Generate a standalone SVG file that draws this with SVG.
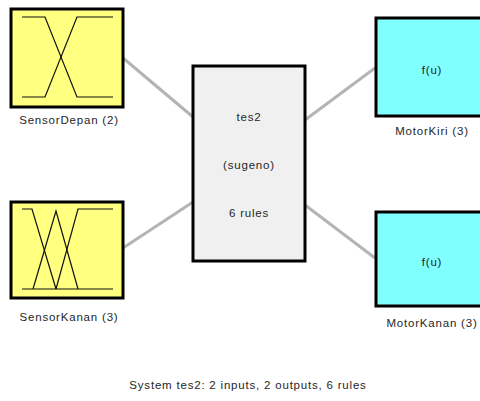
<svg xmlns="http://www.w3.org/2000/svg" width="480" height="401" viewBox="0 0 480 401">
  <style>
    .lbl { font-family: "Liberation Sans", Arial, sans-serif; font-size: 11.5px; letter-spacing: 0.8px; fill: #262626; text-anchor: middle; }
    .box { stroke: #000; stroke-width: 3; }
    .inp { fill: #ffff80; }
    .sys { fill: #f0f0f0; }
    .out { fill: #80ffff; }
    .mf { fill: none; stroke: #111; stroke-width: 1.2; }
    .wire { stroke: #b4b4b4; stroke-width: 3; fill: none; }
  </style>
  <rect width="480" height="401" fill="#fff"/>

  <g id="connectors">
    <line class="wire" x1="123" y1="58" x2="193" y2="117"/>
    <line class="wire" x1="123" y1="248" x2="193" y2="202"/>
    <line class="wire" x1="305" y1="120" x2="375" y2="68"/>
    <line class="wire" x1="305" y1="205" x2="375" y2="258"/>
  </g>

  <g id="SensorDepan">
    <rect class="box inp" x="11" y="9" width="112" height="98"/>
    <polyline class="mf" points="22,17 45,17 77,97 113,97"/>
    <polyline class="mf" points="22,97 45,97 77,17 113,17"/>
    <text class="lbl" x="69" y="124">SensorDepan (2)</text>
  </g>

  <g id="SensorKanan">
    <rect class="box inp" x="11" y="202" width="112" height="96"/>
    <polyline class="mf" points="22,209 32,209 56,289"/>
    <polyline class="mf" points="22,289 113,289"/>
    <polyline class="mf" points="33,289 56,211 78,289"/>
    <polyline class="mf" points="56,289 78,209 113,209"/>
    <text class="lbl" x="69" y="321">SensorKanan (3)</text>
  </g>

  <g id="tes2">
    <rect class="box sys" x="193" y="66" width="112" height="195"/>
    <text class="lbl" x="249" y="121">tes2</text>
    <text class="lbl" x="249" y="169">(sugeno)</text>
    <text class="lbl" x="249" y="217">6 rules</text>
  </g>

  <g id="MotorKiri">
    <rect class="box out" x="376" y="18" width="112" height="98"/>
    <text class="lbl" x="432" y="74">f(u)</text>
    <text class="lbl" x="432" y="135">MotorKiri (3)</text>
  </g>

  <g id="MotorKanan">
    <rect class="box out" x="376" y="212" width="112" height="94"/>
    <text class="lbl" x="432" y="266">f(u)</text>
    <text class="lbl" x="432" y="327">MotorKanan (3)</text>
  </g>

  <text class="lbl" x="248" y="389">System tes2: 2 inputs, 2 outputs, 6 rules</text>
</svg>
